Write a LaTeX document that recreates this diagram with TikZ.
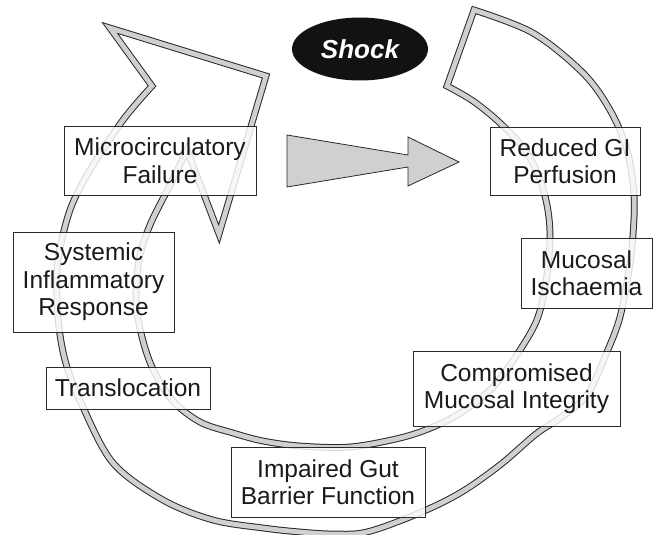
\documentclass[tikz,border=0pt]{standalone}
\usepackage{fontspec}
\setmainfont{Liberation Sans}
\usetikzlibrary{shapes.geometric}
\definecolor{ringdark}{HTML}{2A2A2A}
\definecolor{ringfill}{HTML}{D0D0D0}
\definecolor{txt}{HTML}{1A1A1A}
\begin{document}
\begin{tikzpicture}[x=1pt,y=-1pt,
  ring/.style={draw=ringdark, line width=1pt, double=ringfill, double distance=4.8pt, line join=miter},
  lbl/.style={draw=ringdark, line width=0.8pt, fill=white, fill opacity=0.82, text opacity=1, text=txt, align=center, inner sep=0pt, font=\fontsize{24.5}{27.5}\selectfont},
  bigarrow/.style={draw=ringdark, line width=0.8pt, fill=ringfill, line join=miter},
]
\useasboundingbox (0,0) rectangle (654,535);

% circular arrow band
\draw[ring] (474,10)
  -- plot[smooth, tension=0.55] coordinates {(474,10) (533,33) (583,73) (610,110) (627,150) (634,195) (633,235) (629,270) (620,317) (607,352) (587,395) (560,418) (536,434) (500,465) (460,493) (417,514) (367,532) (333,534) (300,532) (263,528) (213,520) (163,500) (113,463) (82,405) (67,367) (60,335) (57,300) (58,260) (70,210) (90,170) (123,120) (152,86)}
  -- (110,28) -- (266,76) -- (219,234) -- (187,150)
  -- plot[smooth, tension=0.55] coordinates {(187,150) (170,185) (150,225) (139,260) (136,300) (141,333) (152,367) (172,400) (200,422) (233,433) (263,441) (300,446) (350,447) (400,438) (433,427) (462,412) (493,387) (520,350) (538,317) (547,275) (550,235) (547,205) (539,177) (525,150) (500,123) (473,101) (447,86)}
  -- cycle;

% central grey arrow
\draw[bigarrow] (287,135) -- (408,155) -- (408,137) -- (459,162) -- (408,186) -- (408,167) -- (287,187) -- cycle;

% shock
\node[ellipse, fill=black!93, minimum width=136pt, minimum height=63pt, inner sep=0pt, text=white, font=\fontsize{26}{30}\selectfont\bfseries\itshape] (shock) at (360,49) {Shock};

% labels
\node[lbl, minimum width=192pt, minimum height=69pt] (micro) at (160,160.5) {Microcirculatory\\Failure};
\node[lbl, minimum width=150pt, minimum height=68pt] (reduced) at (565,161) {Reduced GI\\Perfusion};
\node[lbl, minimum width=161pt, minimum height=100pt] (systemic) at (93.5,282) {Systemic\\Inflammatory\\Response};
\node[lbl, minimum width=131pt, minimum height=70pt] (ischaemia) at (586.5,273) {Mucosal\\Ischaemia};
\node[lbl, minimum width=164pt, minimum height=42pt] (transloc) at (128,388) {Translocation};
\node[lbl, minimum width=207pt, minimum height=75pt] (integrity) at (516.5,388.5) {Compromised\\Mucosal Integrity};
\node[lbl, minimum width=194pt, minimum height=70pt] (barrier) at (328,482) {Impaired Gut\\Barrier Function};
\end{tikzpicture}
\end{document}
